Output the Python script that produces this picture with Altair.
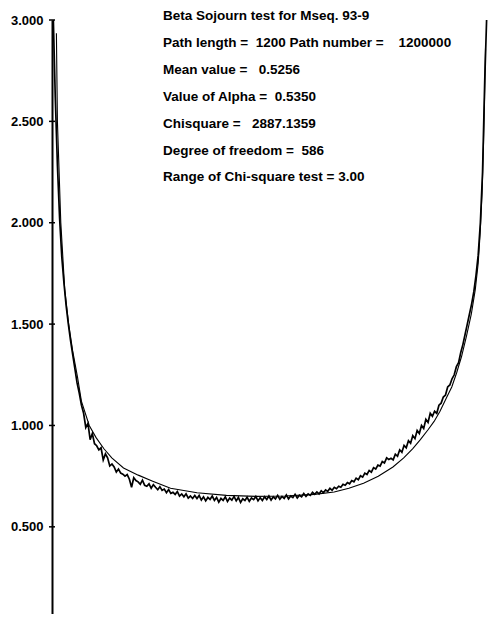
import altair as alt
import pandas as pd

# ---- data ----
tick_values = [0.5, 1.0, 1.5, 2.0, 2.5, 3.0]

# fitted Beta density (x in % of path length)
fit_x = [1.01, 1.24, 2.02, 2.92, 3.82, 4.72, 5.84, 6.74, 8.54, 10.11, 11.91, 13.71,
         16.4, 19.78, 23.1, 27.19, 33.26, 40.0, 46.74, 53.48, 60.22, 64.72, 68.09,
         71.46, 74.83, 78.20, 80.67, 82.70, 84.49, 86.29, 87.64, 88.99, 90.56, 91.69,
         92.81, 93.93, 95.05, 96.18, 97.08, 97.75, 98.20, 98.65, 98.98, 99.21, 99.43]
fit_y = [2.935, 2.50, 2.00, 1.67, 1.50, 1.37, 1.24, 1.12, 1.00, 0.94, 0.885, 0.84,
         0.79, 0.755, 0.725, 0.69, 0.668, 0.655, 0.65, 0.652, 0.66, 0.672, 0.69,
         0.715, 0.75, 0.795, 0.84, 0.885, 0.93, 0.98, 1.02, 1.07, 1.14, 1.19,
         1.26, 1.34, 1.44, 1.55, 1.67, 1.80, 1.95, 2.15, 2.40, 2.62, 2.86]

# empirical sojourn histogram, 200 equal bins
emp_y = [
    3.05, 2.62, 2.28, 2.02, 1.83, 1.70, 1.59, 1.50, 1.42, 1.35,
    1.28, 1.21, 1.16, 1.10, 1.06, 0.99, 1.01, 0.93, 0.96, 0.91,
    0.90, 0.88, 0.89, 0.83, 0.86, 0.84, 0.80, 0.81, 0.795, 0.77,
    0.785, 0.765, 0.76, 0.75, 0.758, 0.735, 0.695, 0.742, 0.728, 0.722,
    0.71, 0.73, 0.705, 0.70, 0.712, 0.69, 0.708, 0.695, 0.683, 0.698,
    0.68, 0.686, 0.668, 0.684, 0.665, 0.67, 0.66, 0.674, 0.652, 0.662,
    0.648, 0.663, 0.642, 0.652, 0.64, 0.655,
    0.64, 0.655, 0.632, 0.648, 0.628, 0.645, 0.635, 0.652, 0.63, 0.645,
    0.622, 0.64, 0.63, 0.648, 0.625, 0.642, 0.632, 0.65, 0.628, 0.645,
    0.62, 0.638, 0.63, 0.646, 0.626, 0.642, 0.634, 0.65, 0.628, 0.644,
    0.63, 0.648, 0.635, 0.652, 0.632, 0.648, 0.638, 0.655, 0.636, 0.65,
    0.64, 0.657, 0.638, 0.652, 0.644, 0.66, 0.642, 0.656, 0.648, 0.664,
    0.65, 0.662, 0.655, 0.67, 0.66, 0.672, 0.662, 0.678, 0.668, 0.682,
    0.675, 0.69, 0.68, 0.695,
    0.688, 0.70, 0.695, 0.71, 0.705, 0.718, 0.712, 0.728, 0.722, 0.74,
    0.732, 0.752, 0.745, 0.765, 0.758, 0.778, 0.77, 0.792, 0.785, 0.805,
    0.80, 0.822, 0.815, 0.84, 0.832, 0.838, 0.83, 0.858, 0.848, 0.88,
    0.868, 0.902, 0.89, 0.925, 0.912, 0.95, 0.935, 0.975, 0.96, 1.00,
    0.985, 1.03, 1.015, 1.06, 1.045,
    1.07, 1.06, 1.10, 1.11, 1.14, 1.15, 1.19, 1.20, 1.23, 1.25,
    1.29, 1.31, 1.36, 1.40,
    1.45, 1.50, 1.55, 1.60, 1.66, 1.74, 1.84, 2.0, 2.25, 2.7, 3.05,
]
emp_x = [(i + 0.5) * 0.5 for i in range(len(emp_y))]

FS = "\u2007"
info_lines = [
    "Beta Sojourn test for Mseq. 93-9",
    "Path length =" + FS + "1200 Path number =" + FS * 2 + "1200000",
    "Mean value =" + FS + " 0.5256",
    "Value of Alpha =" + FS + "0.5350",
    "Chisquare =" + FS + " 2887.1359",
    "Degree of freedom =" + FS + "586",
    "Range of Chi-square test = 3.00",
]

# ---- chart ----
FONT = "Liberation Sans, Arial, sans-serif"
W, H = 436, 594
y_min, y_max = 0.07, 3.0

xs = alt.Scale(domain=[0, 100], nice=False, zero=False)
ys = alt.Scale(domain=[y_min, y_max], nice=False, zero=False)
y_axis = alt.Axis(
    values=tick_values, format=".3f", title=None, grid=False,
    ticks=False, tickSize=0, domain=True, domainColor="black", domainWidth=2,
    labelFont=FONT, labelFontSize=13, labelFontWeight="bold",
    labelColor="black", labelPadding=9)

emp = alt.Chart(pd.DataFrame({"x": emp_x, "y": emp_y})).mark_line(
    color="black", strokeWidth=1.7, clip=True
).encode(
    x=alt.X("x:Q", scale=xs, axis=None),
    y=alt.Y("y:Q", scale=ys, axis=y_axis),
)

fit = alt.Chart(pd.DataFrame({"x": fit_x, "y": fit_y})).mark_line(
    color="black", strokeWidth=1.1, clip=True
).encode(
    x=alt.X("x:Q", scale=xs, axis=None),
    y=alt.Y("y:Q", scale=ys, axis=y_axis),
)

ticks = alt.Chart(pd.DataFrame({"y": tick_values})).mark_rule(
    color="black", strokeWidth=1.5
).encode(
    y=alt.Y("y:Q", scale=ys, axis=y_axis),
    x=alt.value(-3), x2=alt.value(3),
)

text = alt.Chart(pd.DataFrame({"t": ["\n".join(info_lines)]})).mark_text(
    lineBreak="\n", lineHeight=26.9, align="left", baseline="alphabetic",
    font=FONT, fontSize=13.5, fontWeight="bold", color="black"
).encode(text="t:N", x=alt.value(111), y=alt.value(0))

chart = alt.layer(emp, fit, ticks, text).properties(
    width=W, height=H,
    autosize=alt.AutoSizeParams(type="none"),
    padding={"left": 44, "top": 12, "right": 0, "bottom": 0},
).configure_view(stroke=None)

chart.save("out.html", embed_options={"renderer": "svg", "actions": False})
